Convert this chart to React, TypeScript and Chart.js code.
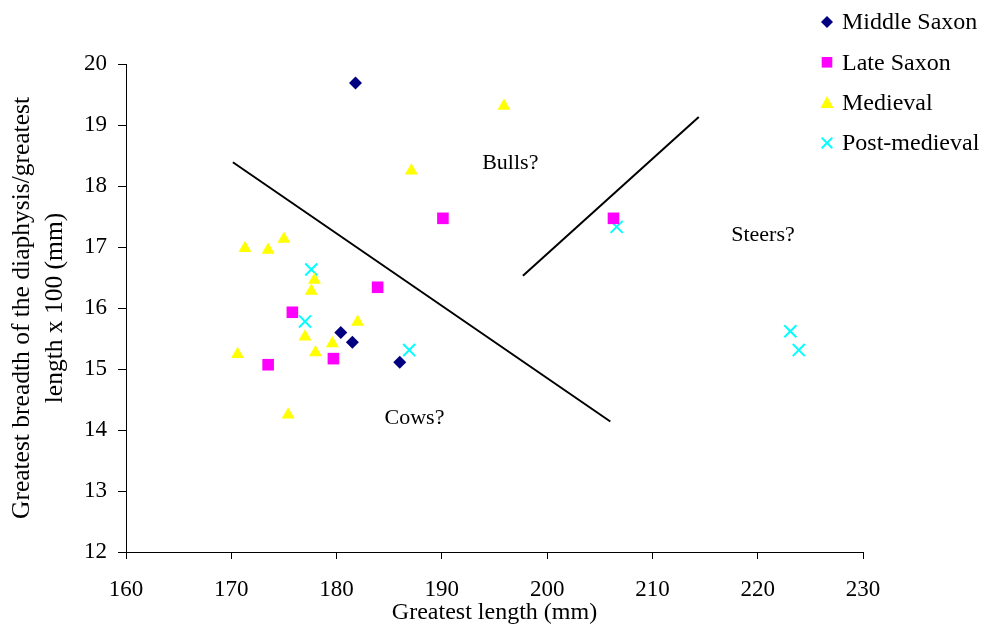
import React, { useEffect, useRef } from 'react';
import { Chart, registerables } from 'chart.js';

Chart.register(...registerables);

const seriesNames = ['Middle Saxon', 'Late Saxon', 'Medieval', 'Post-medieval'];
const seriesColors = ['#000080', '#FF00FF', '#FFFF00', '#00FFFF'];

const middleSaxonX = [181.8, 180.4, 181.5, 186.0];
const middleSaxonY = [19.69, 15.6, 15.44, 15.11];

const lateSaxonX = [190.1, 206.3, 183.9, 175.8, 179.7, 173.5];
const lateSaxonY = [17.47, 17.47, 16.34, 15.93, 15.17, 15.07];

const medievalX = [195.9, 187.1, 171.3, 173.5, 175.0, 177.9, 177.6, 182.0, 177.0, 179.6, 178.0, 170.6, 175.4];
const medievalY = [19.31, 18.25, 16.98, 16.95, 17.13, 16.46, 16.28, 15.77, 15.53, 15.42, 15.27, 15.24, 14.25];

const postMedievalX = [177.6, 177.0, 186.9, 206.6, 223.1, 223.9];
const postMedievalY = [16.63, 15.78, 15.31, 17.33, 15.62, 15.31];

const cowsLineX = [170.15, 206.0];
const cowsLineY = [18.39, 14.14];
const steersLineX = [197.7, 214.4];
const steersLineY = [16.53, 19.13];

const annotationLabels = ['Bulls?', 'Cows?', 'Steers?'];
const annotationX = [196.5, 187.4, 220.5];
const annotationY = [18.38, 14.19, 17.19];

const xTickValues = [160, 170, 180, 190, 200, 210, 220, 230];
const yTickValues = [12, 13, 14, 15, 16, 17, 18, 19, 20];

const xTitle = 'Greatest length (mm)';
const yTitle = ['Greatest breadth of the diaphysis/greatest', 'length x 100 (mm)'];

const FONT = '"Liberation Serif", "Times New Roman", serif';

const toPoints = (xs: number[], ys: number[]) => xs.map((x, i) => ({ x, y: ys[i] }));

function drawMarker(ctx: CanvasRenderingContext2D, kind: number, x: number, y: number, color: string) {
  ctx.save();
  ctx.fillStyle = color;
  ctx.strokeStyle = color;
  ctx.beginPath();
  if (kind === 0) {
    const r = 6;
    ctx.moveTo(x, y - r);
    ctx.lineTo(x + r, y);
    ctx.lineTo(x, y + r);
    ctx.lineTo(x - r, y);
    ctx.closePath();
    ctx.fill();
  } else if (kind === 1) {
    const s = 5.3;
    ctx.rect(x - s, y - s, 2 * s, 2 * s);
    ctx.fill();
  } else if (kind === 2) {
    ctx.moveTo(x, y - 6.5);
    ctx.lineTo(x + 6.5, y + 5.5);
    ctx.lineTo(x - 6.5, y + 5.5);
    ctx.closePath();
    ctx.fill();
  } else {
    const s = 5.3;
    ctx.lineWidth = 2;
    ctx.moveTo(x - s, y - s);
    ctx.lineTo(x + s, y + s);
    ctx.moveTo(x + s, y - s);
    ctx.lineTo(x - s, y + s);
    ctx.stroke();
  }
  ctx.restore();
}

const overlayPlugin = {
  id: 'overlay',
  afterDatasetsDraw(chart: any) {
    const ctx: CanvasRenderingContext2D = chart.ctx;
    const xs = chart.scales.x;
    const ys = chart.scales.y;
    ctx.save();
    ctx.fillStyle = '#000';
    ctx.font = `22px ${FONT}`;
    ctx.textAlign = 'center';
    ctx.textBaseline = 'middle';
    annotationLabels.forEach((t, i) => {
      ctx.fillText(t, xs.getPixelForValue(annotationX[i]), ys.getPixelForValue(annotationY[i]));
    });
    // legend
    ctx.font = `24px ${FONT}`;
    ctx.textAlign = 'left';
    seriesNames.forEach((name, i) => {
      const cy = 22 + i * 40.3;
      drawMarker(ctx, i, 827, cy, seriesColors[i]);
      ctx.fillStyle = '#000';
      ctx.fillText(name, 842, cy + 1);
    });
    ctx.restore();
  },
};

export default function App() {
  const ref = useRef<HTMLCanvasElement>(null);
  useEffect(() => {
    const canvas = ref.current;
    if (!canvas) return;
    const lineDs = (xs: number[], ys: number[]) => ({
      type: 'line' as const,
      data: toPoints(xs, ys),
      borderColor: '#000',
      borderWidth: 2,
      pointRadius: 0,
      showLine: true,
      fill: false,
    });
    const chart = new Chart(canvas, {
      type: 'scatter',
      data: {
        datasets: [
          lineDs(cowsLineX, cowsLineY),
          lineDs(steersLineX, steersLineY),
          {
            label: seriesNames[0],
            data: toPoints(middleSaxonX, middleSaxonY),
            pointStyle: 'rectRot',
            pointRadius: 6.5,
            backgroundColor: seriesColors[0],
            borderColor: seriesColors[0],
            borderWidth: 0,
          },
          {
            label: seriesNames[1],
            data: toPoints(lateSaxonX, lateSaxonY),
            pointStyle: 'rect',
            pointRadius: 8.2,
            backgroundColor: seriesColors[1],
            borderColor: seriesColors[1],
            borderWidth: 0,
          },
          {
            label: seriesNames[2],
            data: toPoints(medievalX, medievalY),
            pointStyle: 'triangle',
            pointRadius: 7.5,
            backgroundColor: seriesColors[2],
            borderColor: seriesColors[2],
            borderWidth: 0,
          },
          {
            label: seriesNames[3],
            data: toPoints(postMedievalX, postMedievalY),
            pointStyle: 'crossRot',
            pointRadius: 8.5,
            backgroundColor: seriesColors[3],
            borderColor: seriesColors[3],
            borderWidth: 2,
          },
        ] as any,
      },
      options: {
        responsive: false,
        animation: false,
        devicePixelRatio: 1,
        events: [],
        layout: { padding: { left: 0, top: 64, right: 128, bottom: 0 } },
        plugins: {
          legend: { display: false },
          tooltip: { enabled: false },
        },
        scales: {
          x: {
            type: 'linear',
            min: 160,
            max: 230,
            afterFit: (s: any) => {
              s.height = 77;
            },
            afterBuildTicks: (s: any) => {
              s.ticks = xTickValues.map((v) => ({ value: v }));
            },
            grid: { drawOnChartArea: false, drawTicks: true, tickLength: 7, color: '#000', lineWidth: 1 },
            border: { display: true, color: '#000', width: 1 },
            ticks: { color: '#000', font: { family: FONT, size: 23 }, padding: 17, maxRotation: 0 },
            title: { display: true, text: xTitle, color: '#000', font: { family: FONT, size: 24 }, padding: { top: 0, bottom: 2 } },
          },
          y: {
            type: 'linear',
            min: 12,
            max: 20,
            afterFit: (s: any) => {
              s.width = 126;
            },
            afterBuildTicks: (s: any) => {
              s.ticks = yTickValues.map((v) => ({ value: v }));
            },
            grid: { drawOnChartArea: false, drawTicks: true, tickLength: 8, color: '#000', lineWidth: 1 },
            border: { display: true, color: '#000', width: 1 },
            ticks: { color: '#000', font: { family: FONT, size: 23 }, padding: 11 },
            title: { display: true, text: yTitle, color: '#000', font: { family: FONT, size: 25.5, lineHeight: 1.32 }, padding: { top: 5, bottom: 0 } },
          },
        },
      },
      plugins: [overlayPlugin],
    });
    return () => chart.destroy();
  }, []);
  return (
    <div style={{ position: 'absolute', left: 0, top: 0, width: 991, height: 629, background: '#fff' }}>
      <canvas ref={ref} width={991} height={629} style={{ display: 'block' }} />
    </div>
  );
}
